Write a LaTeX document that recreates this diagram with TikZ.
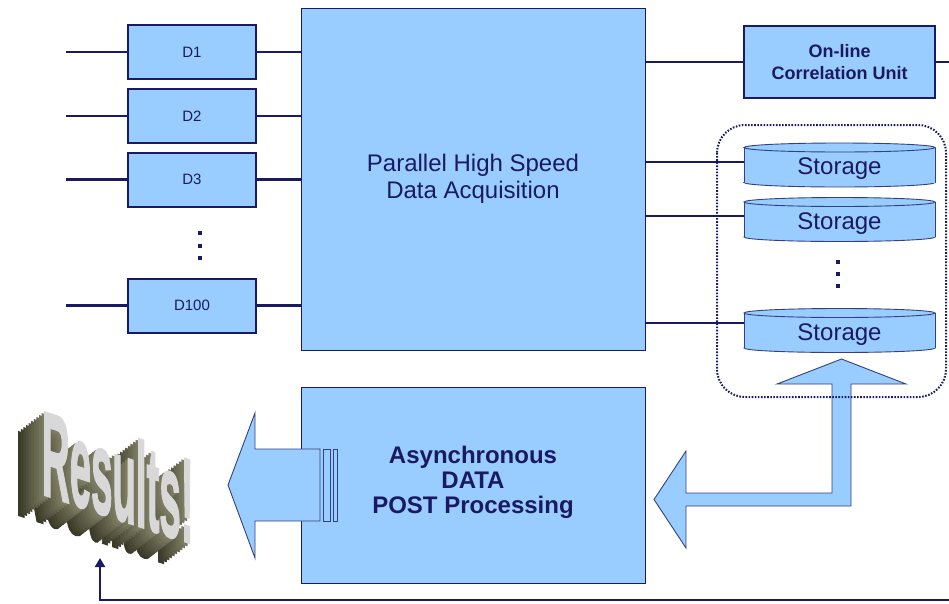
\documentclass[tikz,border=0pt]{standalone}
\usepackage{fontspec}
\setmainfont{Liberation Sans}
\newfontfamily\resfont{Liberation Sans}[FakeBold=2]
\usetikzlibrary{arrows.meta,calc}

\definecolor{boxfill}{RGB}{153,204,255}
\definecolor{navy}{RGB}{26,26,100}
\definecolor{edge}{RGB}{52,64,132}
\definecolor{olivedark}{RGB}{58,58,40}
\definecolor{olivelight}{RGB}{130,130,104}
\definecolor{silver}{RGB}{216,216,216}

% storage cylinder: #1 node name, #2 vertical centre of the body
\newcommand\storageunit[2]{%
  \pgfmathsetmacro\cyt{#2-17.5}%
  \pgfmathsetmacro\cyb{#2+17.5}%
  \draw[cylbody] (839.5,\cyb) ellipse[x radius=95.5, y radius=4.5];
  \fill[boxfill] (744,\cyt) rectangle (935,\cyb);
  \draw[draw=edge,line width=0.9pt] (744,\cyt) -- (744,\cyb) (935,\cyt) -- (935,\cyb);
  \draw[cylbody] (839.5,\cyt) ellipse[x radius=95.5, y radius=4.5];
  \node[stlabel] (#1) at (839.5,#2+4) {Storage};
}

\begin{document}
\begin{tikzpicture}[x=1pt,y=-1pt,
  wire/.style={draw=navy,line width=2.2pt},
  dbox/.style={draw=navy,line width=2pt,fill=boxfill,minimum width=128pt,
    minimum height=54pt,inner sep=0pt,text=navy,font=\fontsize{15}{17}\selectfont},
  bigbox/.style={draw=navy,line width=0.9pt,fill=boxfill,inner sep=0pt,
    text=navy,align=center,minimum width=344pt},
  flowarrow/.style={draw=edge,line width=0.9pt,fill=boxfill,line join=miter},
  cylbody/.style={draw=edge,line width=0.9pt,fill=boxfill},
  stlabel/.style={text=navy,inner sep=0pt,minimum width=191pt,font=\fontsize{24}{24}\selectfont},
  vdot/.style={fill=navy,minimum size=3.6pt,inner sep=0pt},
  resface/.style={anchor=base west,inner sep=0pt,transform shape,
    font=\resfont\bfseries\fontsize{120}{120}\selectfont}
]
\clip (0,0) rectangle (949,603);

% detector boxes
\node[dbox] (d1) at (192,52) {D1};
\node[dbox] (d2) at (192,116) {D2};
\node[dbox] (d3) at (192,179.5) {D3};
\node[dbox] (d100) at (192,305.5) {D100};
\foreach \y in {233,246,258} \node[vdot] at (200,\y) {};

% acquisition block
\node[bigbox,minimum height=342pt,font=\fontsize{24}{27}\selectfont] (acq) at (473,179)
  {Parallel High Speed\\Data Acquisition};

% detector inputs and outputs
\foreach \d in {d1,d2,d3,d100}{
  \coordinate (in-\d) at (66,0 |- \d.west);
  \draw[wire] (in-\d) -- (\d.west);
  \draw[wire] (\d.east) -- (\d.east -| acq.west);
}

% correlation unit
\node[draw=navy,line width=2.2pt,fill=boxfill,minimum width=191pt,minimum height=72pt,
  inner sep=0pt,align=center,text=navy,font=\bfseries\fontsize{18}{22}\selectfont]
  (corr) at (839.5,62) {On-line\\Correlation Unit};
\draw[wire] (corr.west -| acq.east) -- (corr.west);

% storage units
\storageunit{st1}{165}
\storageunit{st2}{219.5}
\storageunit{st3}{330.5}
\foreach \y in {262,274,286} \node[vdot] at (838,\y) {};
\draw[wire] ([yshift=7pt]st1.west -| acq.east) -- ([yshift=7pt]st1.west);
\draw[wire] ([yshift=7.5pt]st2.west -| acq.east) -- ([yshift=7.5pt]st2.west);
\draw[wire] ([yshift=11.5pt]st3.west -| acq.east) -- ([yshift=11.5pt]st3.west);

% post processing block
\node[bigbox,minimum height=196pt] (post) at (473,485) {};
\node[text=navy,align=center,inner sep=0pt,font=\bfseries\fontsize{24}{25}\selectfont]
  (post-text) at (473,482) {Asynchronous\\DATA\\POST Processing};

% striped arrow leaving the post processing block
\draw[flowarrow] (320,449) -- (255,449) -- (255,413) -- (228,485) -- (255,558)
  -- (255,521) -- (320,521) -- cycle;
\draw[flowarrow] (323,449) rectangle (330,521);
\draw[flowarrow] (333,449) rectangle (337,521);

% two-headed bent arrow between storage and post processing
\draw[flowarrow] (851,384) -- (851,506) -- (686,506) -- (686,548) -- (654,499.5)
  -- (686,451) -- (686,493) -- (832,493) -- (832,384) -- (777,384) -- (841.5,359)
  -- (906,384) -- cycle;

% storage group
\draw[navy,line width=2pt,dash pattern=on 1.6pt off 1.5pt,rounded corners=28pt]
  (717,125) rectangle (946,397);

% extruded "Results!" lettering
\foreach \k in {10,9,...,1}{
  \pgfmathsetmacro\p{100*\k/10}
  \begin{scope}[shift={(42-2.6*\k,494+2*\k)},cm={0.32,-0.106,0,1,(0,0)}]
    \node[resface,text=olivedark!\p!olivelight] at (0,0) {Results!};
  \end{scope}
}
\begin{scope}[shift={(42,494)},cm={0.32,-0.106,0,1,(0,0)}]
  \node[resface,text=silver] (res) at (0,0) {Results!};
\end{scope}

% feedback from the correlation unit to the results
\coordinate (resin) at (100,558);
\draw[wire,-{Triangle[width=10pt,length=9pt]}] (corr.east) -- (965,62) -- (965,600)
  -- (100,600) -- (resin);
\end{tikzpicture}
\end{document}
